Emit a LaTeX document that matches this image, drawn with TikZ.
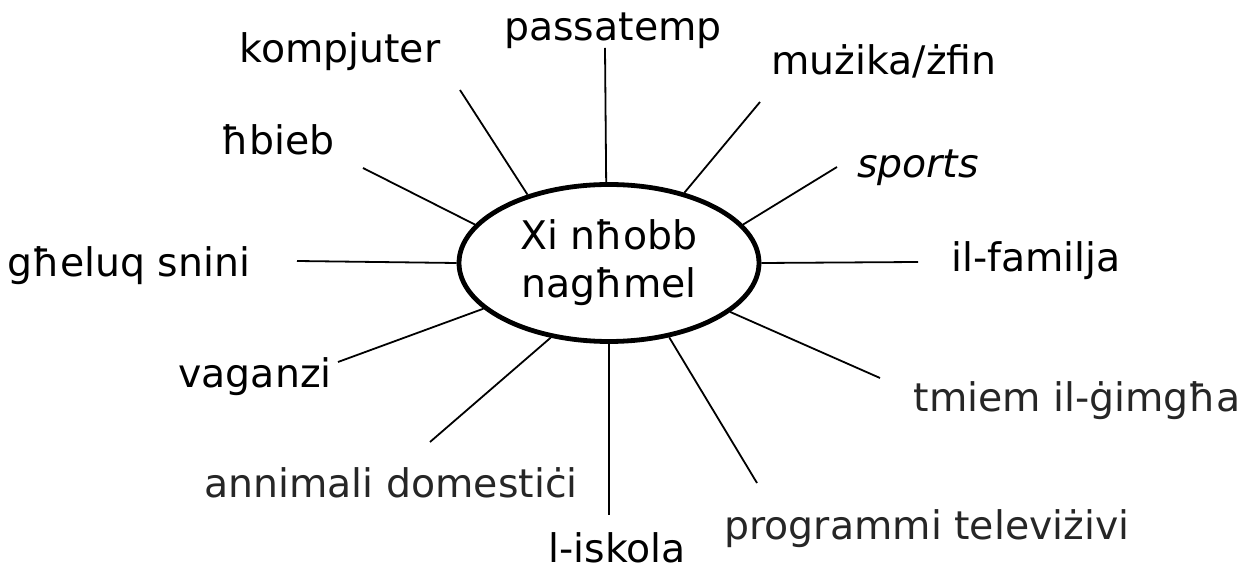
\documentclass[tikz,border=0pt]{standalone}
\usepackage{fontspec}
\setmainfont{DejaVu Sans}
\usetikzlibrary{shapes}

\begin{document}
\begin{tikzpicture}[x=0.5pt,y=-0.5pt,line width=0.9pt,
                    font=\fontsize{19.7}{24}\selectfont]
  \tikzstyle{topic}=[anchor=base,inner sep=0pt]
  \tikzstyle{grey topic}=[topic,text=black!85]
  \tikzstyle{hub}=[ellipse,draw,line width=2.4pt,minimum width=150pt,
                   minimum height=78.5pt,inner sep=0pt,align=center]

  \useasboundingbox (0,0) rectangle (1259,571);

  \node[hub]        (hub)  at (609,263) {Xi nħobb\\nagħmel};

  \node[topic]      (pass) at (613,41)  {passatemp};
  \node[topic]      (komp) at (340,63)  {kompjuter};
  \node[topic]      (muz)  at (884,75)  {mużika/żfin};
  \node[topic]      (hbb)  at (278,155) {ħbieb};
  \node[topic]      (spt)  at (918,178) {\itshape sports};
  \node[topic]      (ghel) at (129,277) {għeluq snini};
  \node[topic]      (fam)  at (1036,272) {il-familja};
  \node[topic]      (vag)  at (255,388) {vaganzi};
  \node[grey topic] (tmm)  at (1077,412) {tmiem il-ġimgħa};
  \node[grey topic] (ann)  at (391,498) {annimali domestiċi};
  \node[grey topic] (prog) at (927,540) {programmi televiżivi};
  \node[topic]      (isk)  at (617,562) {l-iskola};

  % free ends of the spokes
  \coordinate (pass') at (605,48);
  \coordinate (komp') at (460,90);
  \coordinate (muz')  at (760,102);
  \coordinate (hbb')  at (363,168);
  \coordinate (spt')  at (837,167);
  \coordinate (ghel') at (297,261);
  \coordinate (fam')  at (918,262);
  \coordinate (vag')  at (338,362);
  \coordinate (tmm')  at (880,378);
  \coordinate (ann')  at (430,442);
  \coordinate (prog') at (757,483);
  \coordinate (isk')  at (609,515);

  \path (hub.92)  edge (pass')
        (hub.140) edge (komp')
        (hub.43)  edge (muz')
        (hub.164) edge (hbb')
        (hub.16)  edge (spt')
        (hub.180) edge (ghel')
        (hub.0)   edge (fam')
        (hub.200) edge (vag')
        (hub.338) edge (tmm')
        (hub.232) edge (ann')
        (hub.309) edge (prog')
        (hub.270) edge (isk');
\end{tikzpicture}
\end{document}
